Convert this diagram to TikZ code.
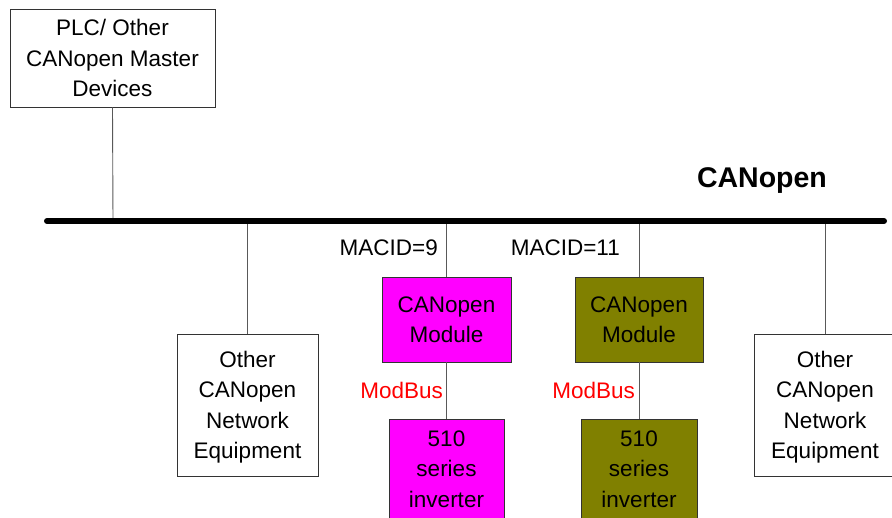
\documentclass[tikz,border=0pt]{standalone}
\usepackage{fontspec}
\setmainfont{Liberation Sans}
\definecolor{modmag}{HTML}{FF00FF}
\definecolor{modolive}{HTML}{808000}
\begin{document}
\begin{tikzpicture}[x=1pt,y=-1pt,
  box/.style={draw=black!80,line width=0.9pt,rectangle,inner sep=0pt,align=center,
    font=\fontsize{22.5}{30.5}\selectfont},
  lbl/.style={inner sep=0pt,font=\fontsize{22.5}{27}\selectfont},
  conn/.style={draw=black!65,line width=0.9pt},
  bus/.style={line width=6pt,line cap=round}]
\useasboundingbox (0,0) rectangle (892,517);
\clip (0,0) rectangle (892,517);
% boxes
\node[box,minimum width=205pt,minimum height=98pt] (plc) at (112.5,58) {PLC/ Other\\CANopen Master\\Devices};
\node[box,minimum width=141pt,minimum height=142pt] (oth1) at (247.5,405) {\rule{0pt}{20.5pt}Other\\CANopen\\Network\\Equipment};
\node[box,minimum width=142pt,minimum height=142pt] (oth2) at (825,405) {\rule{0pt}{20.5pt}Other\\CANopen\\Network\\Equipment};
\node[box,fill=modmag,minimum width=129pt,minimum height=85pt] (mod1) at (446.5,319.5) {CANopen\\Module};
\node[box,fill=modolive,minimum width=128pt,minimum height=85pt] (mod2) at (639,319.5) {CANopen\\Module};
\node[box,fill=modmag,minimum width=115pt,minimum height=100pt] (inv1) at (446.5,469) {510\\series\\inverter};
\node[box,fill=modolive,minimum width=116pt,minimum height=100pt] (inv2) at (639,469) {510\\series\\inverter};
% bus
\coordinate (busL) at (47,221);
\coordinate (busR) at (884,221);
\coordinate (t0) at (113,221);
\coordinate (t1) at (247.5,221);
\coordinate (t2) at (446.5,221);
\coordinate (t3) at (639,221);
\coordinate (t4) at (825,221);
\draw[conn] (plc.south) -- (t0);
\draw[conn] (t1) -- (oth1.north);
\draw[conn] (t2) -- (mod1.north);
\draw[conn] (t3) -- (mod2.north);
\draw[conn] (t4) -- (oth2.north);
\draw[conn] (mod1.south) -- (inv1.north);
\draw[conn] (mod2.south) -- (inv2.north);
\draw[bus] (busL) -- (busR);
% labels
\node[font=\fontsize{28.5}{32}\selectfont\bfseries,inner sep=0pt] (title) at (762,180.5) {CANopen};
\node[lbl,anchor=east] (mac9) at (438,248) {MACID=9};
\node[lbl,anchor=east] (mac11) at (620,248) {MACID=11};
\node[lbl,anchor=east,text=red] (mb1) at (443,390) {ModBus};
\node[lbl,anchor=east,text=red] (mb2) at (635,390) {ModBus};
\end{tikzpicture}
\end{document}
